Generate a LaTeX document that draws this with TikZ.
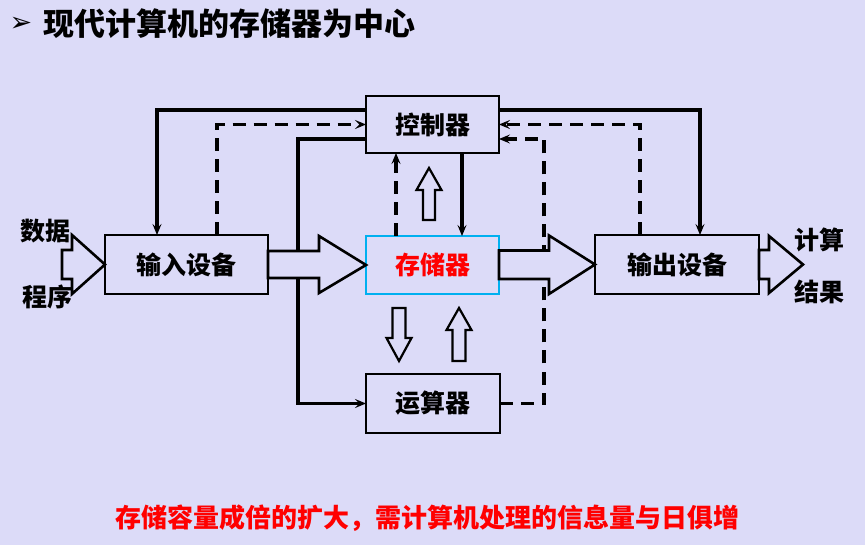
\documentclass[tikz,border=0pt]{standalone}
\usepackage{fontspec}
\setmainfont{Noto Sans CJK SC}
\newfontfamily\djv{DejaVu Sans}
\usetikzlibrary{arrows.meta,calc}
\definecolor{bg}{RGB}{220,219,248}
\definecolor{memc}{RGB}{0,176,240}
\begin{document}
\begin{tikzpicture}[x=1pt,y=-1pt,
  box/.style={draw, line width=2.6pt, fill=bg, inner sep=0pt, outer sep=0pt,
    font=\bfseries\fontsize{25}{25}\selectfont},
  conn/.style={line width=3.2pt, -{Stealth[length=11pt,width=9pt,inset=4.5pt]}},
  dconn/.style={conn, dash pattern=on 13pt off 8pt},
  wide/.style={draw, line width=2.6pt, fill=bg, line join=miter},
  hollow/.style={draw, line width=2.2pt, fill=bg, line join=miter},
  lbl/.style={font=\bfseries\fontsize{25}{25}\selectfont, inner sep=0pt}]
\fill[bg] (0,0) rectangle (865,545);
\useasboundingbox (0,0) rectangle (865,545);

% title
\node[font=\djv\fontsize{27}{27}\selectfont, inner sep=0pt] (bullet) at (21,24) {➢};
\node[anchor=west, inner sep=0pt, font=\bfseries\fontsize{31}{31}\selectfont] (title) at (43,24) {现代计算机的存储器为中心};

% boxes
\node[box, minimum width=133pt, minimum height=57pt] (ctrl) at (432.5,124.5) {控制器};
\node[box, minimum width=133pt, minimum height=58pt, draw=memc, line width=2.4pt, text=red] (mem) at (432.5,265) {存储器};
\node[box, minimum width=134pt, minimum height=59pt] (alu) at (433,403.5) {运算器};
\node[box, minimum width=163pt, minimum height=59pt] (in) at (186.5,264.5) {输入设备};
\node[box, minimum width=164pt, minimum height=59pt] (out) at (677,264.5) {输出设备};

% connectors
\draw[conn] ([yshift=14.5pt]ctrl.west) -| ([xshift=-29.5pt]in.north);
\draw[dconn] ([xshift=30.5pt]in.north) |- (ctrl.west);
\draw[conn] ([yshift=-14.5pt]ctrl.west) -| ([xshift=-68pt]alu.west) -- (alu.west);
\draw[conn] ([xshift=29.5pt]ctrl.south) -- ([xshift=29.5pt]mem.north);
\draw[dconn] ([xshift=-36.5pt]mem.north) -- ([xshift=-36.5pt]ctrl.south);
\draw[conn] ([yshift=14.5pt]ctrl.east) -| ([xshift=23pt]out.north);
\draw[dconn] ([xshift=-37pt]out.north) |- (ctrl.east);
\draw[dconn] (alu.east) -| ([xshift=45pt,yshift=-14.5pt]ctrl.east) -- ([yshift=-14.5pt]ctrl.east);

% wide arrows
\coordinate (src) at (62,264.5);
\coordinate (res) at (803,264.5);
\filldraw[wide] (src) ++(0,-14.5) -- ++(10,0) -- ++(0,-15) -- (in.west) -- (72,294) -- ++(0,-15) -- ++(-10,0) -- cycle;
\filldraw[wide] ([yshift=13.5pt]in.east) -- ++(51,0) -- ++(0,-15) -- (mem.west) -- (319,293) -- ++(0,-15) -- ++(-51,0) -- cycle;
\filldraw[wide] ([yshift=14.5pt]mem.east) -- ++(50,0) -- ++(0,-15) -- (out.west) -- (549,294) -- ++(0,-15) -- ++(-50,0) -- cycle;
\filldraw[wide] ([yshift=14.5pt]out.east) -- ++(10,0) -- ++(0,-14) -- (res) -- (769,293) -- ++(0,-14) -- ++(-10,0) -- cycle;

% hollow vertical arrows
\filldraw[hollow] (423,220) -- (435,220) -- (435,190) -- (441.5,190) -- (429,168) -- (416.5,190) -- (423,190) -- cycle;
\filldraw[hollow] (392.5,308) -- (405.5,308) -- (405.5,338) -- (411.5,338) -- (399,361) -- (386.5,338) -- (392.5,338) -- cycle;
\filldraw[hollow] (452.5,361) -- (465.5,361) -- (465.5,330) -- (471.5,330) -- (459,308) -- (446.5,330) -- (452.5,330) -- cycle;

% labels
\node[lbl] (l1) at (45,231) {数据};
\node[lbl] (l2) at (47,297) {程序};
\node[lbl] (l3) at (819,240) {计算};
\node[lbl] (l4) at (819,292) {结果};

% note
\node[font=\bfseries\fontsize{26}{26}\selectfont, text=red, inner sep=0pt] (note) at (427,518) {存储容量成倍的扩大，需计算机处理的信息量与日俱增};
\end{tikzpicture}
\end{document}
